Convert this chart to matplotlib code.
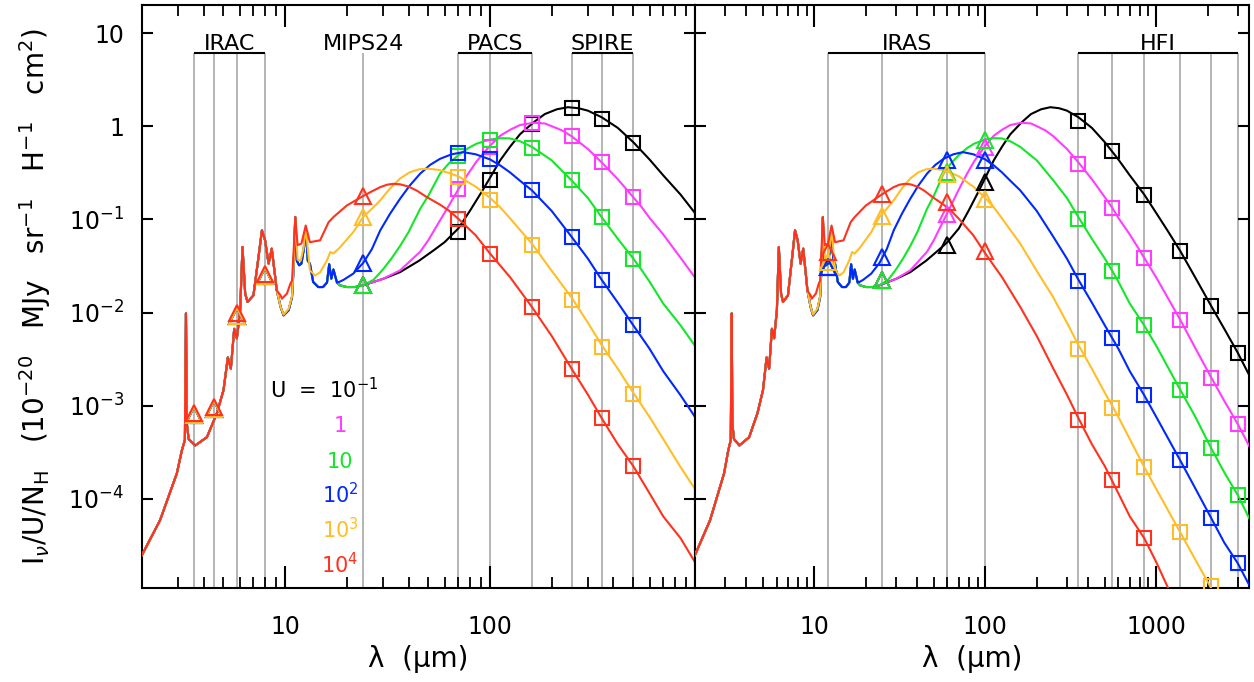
import numpy as np
import matplotlib.pyplot as plt
from matplotlib.ticker import FixedLocator, LogLocator, NullLocator, NullFormatter

# ---- SED curves, I_nu/U/N_H ----
# 2-9 micron part, the same for every U
lam_mir = [2.0, 2.45, 2.96, 3.13, 3.24, 3.28, 3.31, 3.38, 3.64, 4.15, 4.64, 5.0,
           5.25, 5.43, 5.64, 5.81, 6.03, 6.19, 6.38, 6.55, 7.0, 7.41, 7.7, 7.98,
           8.3, 8.6, 8.94, 9.1]
val_mir = [2.5e-5, 5.9e-5, 1.88e-4, 3.3e-4, 4.3e-4, 9.8e-3, 6.5e-4, 4.4e-4, 3.75e-4,
           4.6e-4, 8.3e-4, 1.47e-3, 3.3e-3, 2.5e-3, 6.7e-3, 5.3e-3, 0.0106, 0.0505,
           0.016, 0.013, 0.0153, 0.0394, 0.0762, 0.0596, 0.0335, 0.0485, 0.0241, 0.0173]

# 9.5-18 micron part shared by U = 0.1 ... 100
lam_pah = [9.5, 9.82, 10.4, 10.8, 11.0, 11.2, 11.4, 11.7, 12.0, 12.3, 12.6, 12.9,
           13.2, 13.7, 14.5, 15.3, 16.0, 16.4, 16.8, 17.2, 17.9]
val_pah = [0.0115, 0.00935, 0.0106, 0.0147, 0.031, 0.106, 0.036, 0.0322, 0.0335,
           0.0465, 0.079, 0.036, 0.0335, 0.0213, 0.0188, 0.0188, 0.021, 0.033,
           0.0231, 0.029, 0.021]

lam_u01 = [18.5, 20, 21.9, 24, 30, 36.4, 45, 53, 60, 70, 80, 90, 100, 112, 125, 140,
           163, 185, 212, 240, 270, 300, 350, 420, 500, 600, 700, 850, 1000, 1180,
           1380, 1700, 2100, 2500, 3000, 3500]
val_u01 = [0.0196, 0.0188, 0.0188, 0.0196, 0.023, 0.0272, 0.036, 0.0465, 0.057,
           0.08, 0.125, 0.19, 0.28, 0.43, 0.6, 0.82, 1.1, 1.35, 1.52, 1.6, 1.56,
           1.47, 1.25, 0.96, 0.674, 0.44, 0.297, 0.185, 0.117, 0.073, 0.046, 0.0234,
           0.0117, 0.0067, 0.0037, 0.00213]

lam_u1 = [18.5, 20, 21.9, 24, 30, 36.4, 45.6, 50, 57, 63, 70, 78, 86, 100, 112, 125,
          140, 163, 185, 200, 225, 250, 300, 350, 420, 500, 550, 600, 700, 850, 1000,
          1380, 1700, 2100, 2500, 3000, 3500]
val_u1 = [0.0196, 0.0188, 0.0188, 0.0196, 0.023, 0.0284, 0.045, 0.06, 0.0976, 0.141,
          0.21, 0.307, 0.42, 0.62, 0.79, 0.914, 1.03, 1.09, 1.07, 1.0, 0.9, 0.78,
          0.57, 0.41, 0.27, 0.173, 0.135, 0.104, 0.069, 0.0388, 0.0238, 8.4e-3,
          4.1e-3, 2.0e-3, 1.13e-3, 6.35e-4, 3.7e-4]

lam_u10 = [18.5, 20, 21.9, 24, 27, 30, 33, 36.4, 40, 45.6, 50, 57, 63, 70, 78, 86,
           100, 112, 125, 140, 160, 200, 250, 300, 350, 420, 500, 550, 600, 700, 850,
           1000, 1380, 1700, 2100, 2500, 3000, 3500]
val_u10 = [0.0196, 0.0188, 0.0188, 0.0196, 0.0225, 0.029, 0.038, 0.052, 0.073, 0.13,
           0.18, 0.31, 0.4, 0.49, 0.58, 0.65, 0.72, 0.745, 0.74, 0.69, 0.6, 0.43,
           0.262, 0.17, 0.106, 0.062, 0.038, 0.0285, 0.0215, 0.0125, 0.0073, 4.4e-3,
           1.49e-3, 7.5e-4, 3.48e-4, 1.93e-4, 1.1e-4, 6.2e-5]

lam_u100 = [18.5, 19.3, 21.5, 24, 26.5, 29.1, 32.5, 36.4, 40.5, 45.6, 51, 57, 65, 74,
            85, 100, 112, 125, 140, 160, 200, 250, 300, 350, 420, 500, 550, 600, 700,
            850, 1000, 1380, 1700, 2100, 2500, 3000, 3500]
val_u100 = [0.0215, 0.0225, 0.0262, 0.034, 0.048, 0.0762, 0.115, 0.167, 0.23, 0.31,
            0.385, 0.447, 0.5, 0.527, 0.5, 0.44, 0.38, 0.32, 0.26, 0.205, 0.123,
            0.065, 0.038, 0.0226, 0.0128, 0.0073, 5.4e-3, 4.1e-3, 2.35e-3, 1.3e-3,
            7.6e-4, 2.6e-4, 1.28e-4, 6.2e-5, 3.4e-5, 2.04e-5, 1.19e-5]

lam_u1e3 = [9.5, 9.82, 10.4, 10.8, 11.0, 11.2, 11.5, 11.9, 12.3, 12.6, 13.2, 14.0,
            14.8, 16.0, 16.6, 17.2, 18.5, 21.5, 24, 26.5, 29.1, 32.5, 36.4, 40.5, 45,
            50, 56, 63, 70, 85, 100, 112, 125, 140, 160, 200, 250, 300, 350, 420, 500,
            600, 700, 850, 1000, 1380, 1700, 2100]
val_u1e3 = [0.0115, 0.0095, 0.011, 0.015, 0.032, 0.106, 0.037, 0.036, 0.05, 0.082,
            0.0284, 0.025, 0.027, 0.0364, 0.0447, 0.043, 0.05, 0.073, 0.106, 0.13,
            0.16, 0.215, 0.275, 0.32, 0.345, 0.35, 0.34, 0.315, 0.29, 0.225, 0.17,
            0.135, 0.103, 0.077, 0.055, 0.028, 0.0145, 7.8e-3, 4.5e-3, 2.5e-3,
            1.38e-3, 7.6e-4, 4.4e-4, 2.2e-4, 1.28e-4, 4.4e-5, 2.2e-5, 1.1e-5]

lam_u1e4 = [9.5, 9.64, 10.2, 10.6, 10.8, 11.0, 11.2, 11.5, 12.0, 12.6, 13.2, 14.8,
            16.3, 17.2, 20, 24, 26.5, 29.1, 31.5, 33.8, 36.4, 40, 44, 49, 57, 63, 70,
            85, 100, 125, 160, 200, 250, 300, 350, 420, 500, 600, 700, 850, 1000, 1175]
val_u1e4 = [0.0153, 0.0141, 0.016, 0.0204, 0.022, 0.0465, 0.106, 0.053, 0.055,
            0.086, 0.057, 0.0596, 0.0935, 0.106, 0.141, 0.178, 0.2, 0.222, 0.236,
            0.241, 0.238, 0.225, 0.203, 0.174, 0.144, 0.124, 0.1016, 0.0676, 0.043,
            0.0241, 0.0115, 5.6e-3, 2.5e-3, 1.32e-3, 7.4e-4, 3.87e-4, 2.25e-4,
            1.15e-4, 6.5e-5, 3.8e-5, 2.1e-5, 1.1e-5]

U_labels = ['10$^{-1}$', '1', '10', '10$^{2}$', '10$^{3}$', '10$^{4}$']
colors = ['black', '#ff3cff', '#14e628', '#0028ff', '#ffbe28', '#ff321e']

# ---- band-integrated points ----
irac_lam = [3.6, 4.5, 5.8, 8.0]
mips_lam = [24.0]
pacs_lam = [70, 100, 160]
spire_lam = [250, 350, 500]
iras_lam = [12, 25, 60, 100]
hfi_lam = [350, 550, 850, 1380, 2100, 3000]

irac_val = [[7.9e-4, 9.3e-4, 9.3e-3, 0.0245],
            [7.9e-4, 9.3e-4, 9.3e-3, 0.0245],
            [7.9e-4, 9.3e-4, 9.3e-3, 0.0245],
            [7.9e-4, 9.3e-4, 9.3e-3, 0.0245],
            [7.9e-4, 9.3e-4, 9.3e-3, 0.0245],
            [8.3e-4, 9.8e-4, 9.8e-3, 0.0257]]
mips_val = [[0.0196], [0.0196], [0.0196], [0.0343], [0.106], [0.178]]
pacs_val = [[0.073, 0.262, 1.06],
            [0.21, 0.6, 1.08],
            [0.48, 0.71, 0.59],
            [0.51, 0.44, 0.205],
            [0.284, 0.16, 0.053],
            [0.1016, 0.0429, 0.0115]]
spire_val = [[1.56, 1.2, 0.664],
             [0.78, 0.41, 0.173],
             [0.262, 0.106, 0.038],
             [0.065, 0.0226, 0.0073],
             [0.0135, 0.00428, 0.00133],
             [0.0025, 7.4e-4, 2.25e-4]]
iras_val = [[0.031, 0.0226, 0.053, 0.251],
            [0.031, 0.0226, 0.115, 0.6],
            [0.031, 0.0226, 0.32, 0.71],
            [0.031, 0.0395, 0.436, 0.436],
            [0.035, 0.11, 0.31, 0.167],
            [0.0447, 0.188, 0.153, 0.0454]]
hfi_val = [[1.15, 0.536, 0.185, 0.0457, 0.0117, 0.00372],
           [0.395, 0.133, 0.0388, 0.0084, 0.00201, 6.35e-4],
           [0.1016, 0.0279, 0.0073, 0.00149, 3.48e-4, 1.1e-4],
           [0.0218, 0.0054, 0.0013, 2.6e-4, 6.2e-5, 2.04e-5],
           [0.00411, 9.35e-4, 2.2e-4, 4.46e-5, 1.15e-5, np.nan],
           [7.1e-4, 1.6e-4, 3.8e-5, np.nan, np.nan, np.nan]]

# assemble full curves
tails_lam = [lam_u01, lam_u1, lam_u10, lam_u100, lam_u1e3, lam_u1e4]
tails_val = [val_u01, val_u1, val_u10, val_u100, val_u1e3, val_u1e4]
curves = []
for i in range(6):
    if i < 4:
        lam = lam_mir + lam_pah + tails_lam[i]
        val = val_mir + val_pah + tails_val[i]
    else:
        lam = lam_mir + tails_lam[i]
        val = val_mir + tails_val[i]
    curves.append((lam, val))

ymin, ymax = 1.1e-5, 20.0
ybar = 6.1
FS = 17

fig = plt.figure(figsize=(12.54, 6.82), dpi=100)
ax1 = fig.add_axes([0.1132, 0.1374, 0.441, 0.8553])
ax2 = fig.add_axes([0.5542, 0.1374, 0.442, 0.8553])

panels = [
    (ax1, (2.0, 1000.0), [('IRAC', irac_lam), ('MIPS24', mips_lam),
                          ('PACS', pacs_lam), ('SPIRE', spire_lam)],
     [(irac_lam, irac_val, '^'), (mips_lam, mips_val, '^'),
      (pacs_lam, pacs_val, 's'), (spire_lam, spire_val, 's')], [10, 100]),
    (ax2, (2.0, 3500.0), [('IRAS', iras_lam), ('HFI', hfi_lam)],
     [(iras_lam, iras_val, '^'), (hfi_lam, hfi_val, 's')], [10, 100, 1000]),
]

for ax, xl, bands, points, xmaj in panels:
    ax.set_xscale('log')
    ax.set_yscale('log')
    ax.set_xlim(*xl)
    ax.set_ylim(ymin, ymax)

    # instrument bands
    for name, bl in bands:
        ax.vlines(bl, ymin, ybar, color='#a0a0a0', lw=1.1, zorder=1)
        if len(bl) > 1:
            ax.hlines(ybar, bl[0], bl[-1], color='black', lw=1.5, zorder=2)
        xc = np.sqrt(bl[0] * bl[-1])
        ax.text(xc, ybar * 1.07, name, ha='center', va='baseline', fontsize=16)

    # SEDs
    for i in range(6):
        ax.plot(curves[i][0], curves[i][1], color=colors[i], lw=1.5, zorder=3)
    for i in range(6):
        for bl, bv, mk in points:
            ax.plot(bl, bv[i], ls='none', marker=mk, ms=10 if mk == 's' else 11,
                    mfc='none', mec=colors[i], mew=1.5, zorder=4)

    ax.xaxis.set_major_locator(FixedLocator(xmaj))
    ax.set_xticklabels([str(v) for v in xmaj])
    ax.xaxis.set_minor_locator(LogLocator(base=10, subs=np.arange(2, 10)))
    ax.xaxis.set_minor_formatter(NullFormatter())
    ax.yaxis.set_major_locator(FixedLocator([1e-4, 1e-3, 1e-2, 1e-1, 1, 10]))
    ax.yaxis.set_minor_locator(NullLocator())
    ax.tick_params(axis='x', which='major', direction='in', top=True, bottom=True,
                   length=16, width=1.5, labelsize=FS, pad=19)
    ax.tick_params(axis='x', which='minor', direction='in', top=True, bottom=True,
                   length=8, width=1.3)
    ax.tick_params(axis='y', which='major', direction='in', left=True, right=True,
                   length=8, width=1.5, labelsize=FS, pad=13)
    for s in ax.spines.values():
        s.set_linewidth(1.5)
    ax.text(0.5, -0.121, 'λ  (μm)', transform=ax.transAxes, ha='center',
            va='center', fontsize=20)

ax1.set_yticklabels(['10$^{-4}$', '10$^{-3}$', '10$^{-2}$', '10$^{-1}$', '1', '10'])
ax2.tick_params(axis='y', labelleft=False)

# U legend
ax1.text(0.2315, 0.326, 'U  =  10$^{-1}$', transform=ax1.transAxes,
         ha='left', va='baseline', fontsize=15, color='black')
ys = [0.268, 0.206, 0.146, 0.086, 0.026]
for i in range(1, 6):
    ax1.text(0.358, ys[i - 1], U_labels[i], transform=ax1.transAxes,
             ha='center', va='baseline', fontsize=15, color=colors[i])

fig.text(0.028, 0.565,
         r'I$_\nu$/U/N$_{\rm H}$   (10$^{-20}$   MJy   sr$^{-1}$   H$^{-1}$   cm$^2$)',
         rotation=90, ha='center', va='center', fontsize=20)

fig.savefig('out.png', dpi=100)
